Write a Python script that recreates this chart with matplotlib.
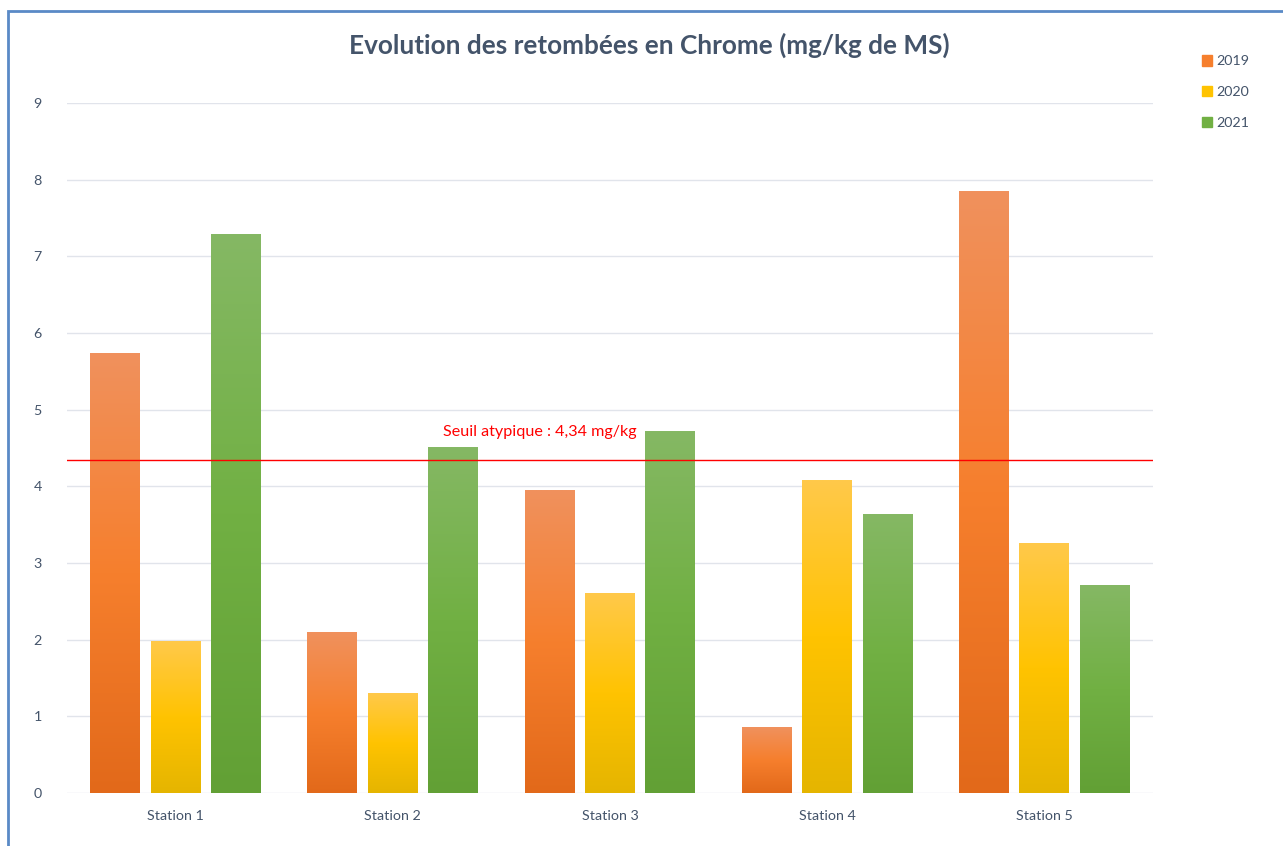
import numpy as np
import matplotlib.pyplot as plt
from matplotlib.colors import LinearSegmentedColormap
from matplotlib.patches import Rectangle

plt.rcParams['font.family'] = ['Lato', 'DejaVu Sans']

# Chrome fallout per station (mg/kg DM)
stations = ['Station 1', 'Station 2', 'Station 3', 'Station 4', 'Station 5']
years = ['2019', '2020', '2021']
cr_2019 = [5.73, 2.09, 3.95, 0.85, 7.84]
cr_2020 = [1.97, 1.30, 2.60, 4.08, 3.26]
cr_2021 = [7.29, 4.51, 4.72, 3.63, 2.71]
threshold = 4.34

# light -> base -> dark gradient stops for each series
grads = [
    ('#F0915D', '#F67F2D', '#E2691A'),
    ('#FFC94A', '#FFC301', '#E5B500'),
    ('#85B864', '#71B043', '#62A035'),
]
text_col = '#44546A'

fig = plt.figure(figsize=(12.83, 8.46), dpi=100)
ax = fig.add_axes([0.0522, 0.0626, 0.8465, 0.8157])

x = np.arange(len(stations))
width = 0.23
step = 0.278
series = [cr_2019, cr_2020, cr_2021]

grad = np.linspace(0, 1, 256).reshape(-1, 1)
handles = []
for i, (vals, yr, g) in enumerate(zip(series, years, grads)):
    bars = ax.bar(x + (i - 1) * step, vals, width, color='none', zorder=3)
    cmap = LinearSegmentedColormap.from_list(yr, [g[2], g[1], g[0]])
    for b in bars:
        x0, h = b.get_x(), b.get_height()
        ax.imshow(grad, cmap=cmap, origin='lower', aspect='auto',
                  extent=[x0, x0 + b.get_width(), 0, h], zorder=3)
    handles.append(Rectangle((0, 0), 1, 1, color=g[1], label=yr))

ax.axhline(threshold, color='#FF0000', lw=1.0, zorder=4)
ax.annotate('Seuil atypique : 4,34 mg/kg', xy=(1.23, threshold),
            xytext=(0, 15), textcoords='offset points',
            color='#FF0000', fontsize=11.6, va='bottom', ha='left')

ax.set_xlim(-0.5, 4.5)
ax.set_ylim(0, 9)
ax.set_yticks(range(10))
ax.set_xticks(x)
ax.set_xticklabels(stations)
ax.grid(axis='y', color='#E1E4EB', lw=1.0, zorder=0)
ax.set_axisbelow(True)
for s in ax.spines.values():
    s.set_visible(False)
ax.tick_params(length=0, colors=text_col, labelsize=10.3)
ax.tick_params(axis='y', pad=18)
ax.tick_params(axis='x', pad=12)

fig.text(0.506, 0.947, 'Evolution des retombées en Chrome (mg/kg de MS)',
         ha='center', va='center', fontsize=18.8, fontweight='bold',
         color=text_col)

fig.legend(handles=handles, loc='upper left', bbox_to_anchor=(0.9265, 0.95),
           frameon=False, fontsize=10.3, handlelength=0.75, handleheight=0.75,
           handletextpad=0.3, labelspacing=1.3, labelcolor=text_col)

# chart-area frame
fig.patches.append(Rectangle((8 / 1283, -0.1), 1.2, 1 - 11 / 846 + 0.1,
                             transform=fig.transFigure, fill=False,
                             edgecolor='#5A8AC6', lw=2.0))

fig.savefig('out.png', dpi=100)
